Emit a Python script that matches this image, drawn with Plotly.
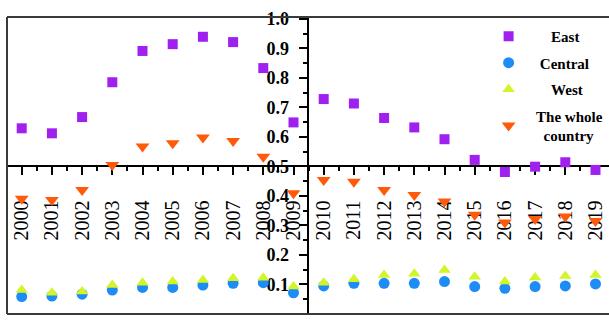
import plotly.graph_objects as go

years = list(range(2000, 2020))
east = [0.629, 0.612, 0.667, 0.785, 0.891, 0.914, 0.939, 0.921, 0.833, 0.649,
        0.728, 0.713, 0.664, 0.632, 0.592, 0.522, 0.481, 0.499, 0.514, 0.488]
central = [0.059, 0.061, 0.067, 0.081, 0.090, 0.090, 0.098, 0.104, 0.106, 0.072,
           0.095, 0.104, 0.104, 0.104, 0.110, 0.093, 0.087, 0.093, 0.095, 0.102]
west = [0.081, 0.072, 0.076, 0.098, 0.106, 0.110, 0.115, 0.121, 0.123, 0.093,
        0.106, 0.118, 0.132, 0.136, 0.149, 0.126, 0.110, 0.124, 0.129, 0.132]
whole = [0.390, 0.386, 0.420, 0.505, 0.567, 0.578, 0.598, 0.586, 0.533, 0.409,
         0.454, 0.448, 0.420, 0.403, 0.381, 0.336, 0.310, 0.322, 0.330, 0.315]
year_labels = [str(y) for y in years]
y_ticks = [round(0.1 * i, 1) for i in range(11)]

NB = "\u00a0"
series = [
    ("g1", NB * 6 + "East", east, "square", "#A020F0", 10),
    ("g2", NB * 3 + "Central", central, "circle", "#1E8CF5", 11),
    ("g3", NB * 6 + "West", west, "triangle-up", "#D2F52A", 11),
    ("g4", NB * 2 + "The whole<br>" + NB * 4 + "country", whole, "triangle-down", "#FF5A0A", 12),
]

fig = go.Figure()
for grp, name, vals, sym, col, sz in series:
    fig.add_trace(go.Scatter(x=years, y=vals, mode="markers", name=name,
                             legendgroup=grp,
                             marker=dict(symbol=sym, color=col, size=sz,
                                         line=dict(width=0))))

FRAME = "#3a3a3a"
serif = "Liberation Serif"

fig.update_layout(
    width=609, height=320,
    margin=dict(l=7, r=0, t=17, b=6),
    paper_bgcolor="white", plot_bgcolor="white",
    showlegend=True,
    legend=dict(x=0.80, y=0.99, xanchor="left", yanchor="top",
                bgcolor="rgba(0,0,0,0)", borderwidth=0,
                font=dict(family=serif, size=15, color="black", weight="bold"),
                itemwidth=30, tracegroupgap=4),
    xaxis=dict(range=[1999.513, 2019.447], anchor="free", position=0.497,
               showgrid=False, zeroline=False, showline=True,
               linecolor="black", linewidth=2,
               tickmode="array", tickvals=years,
               ticktext=[t + NB for t in year_labels],
               ticks="outside", ticklen=8, tickwidth=2, tickcolor="black",
               tickangle=-90, ticklabelstandoff=12,
               tickfont=dict(family=serif, size=20, color="black"),
               minor=dict(dtick=0.5, tick0=1999.5, ticks="outside", ticklen=4,
                          tickwidth=1.5, tickcolor="black"),
               layer="below traces"),
    yaxis=dict(range=[0, 1.006], anchor="free", position=0.5008, side="left",
               showgrid=False, zeroline=False, showline=True,
               linecolor="black", linewidth=2,
               tickmode="array", tickvals=y_ticks,
               ticktext=[f"{v:.1f}" for v in y_ticks],
               ticks="outside", ticklen=8, tickwidth=2, tickcolor="black",
               ticklabelstandoff=7,
               tickfont=dict(family=serif, size=18, color="black", weight="bold"),
               minor=dict(dtick=0.05, ticks="outside", ticklen=4,
                          tickwidth=1.5, tickcolor="black"),
               layer="below traces"),
    shapes=[
        dict(type="line", xref="paper", yref="paper", x0=0, x1=1, y0=1, y1=1,
             line=dict(color=FRAME, width=2)),
        dict(type="line", xref="paper", yref="paper", x0=0, x1=1, y0=0, y1=0,
             line=dict(color=FRAME, width=2)),
        dict(type="line", xref="paper", yref="paper", x0=0, x1=0, y0=0, y1=1,
             line=dict(color=FRAME, width=2)),
    ],
)

fig.write_html("out.html", config={"displayModeBar": False},
               post_script="document.body.style.margin='0';")
